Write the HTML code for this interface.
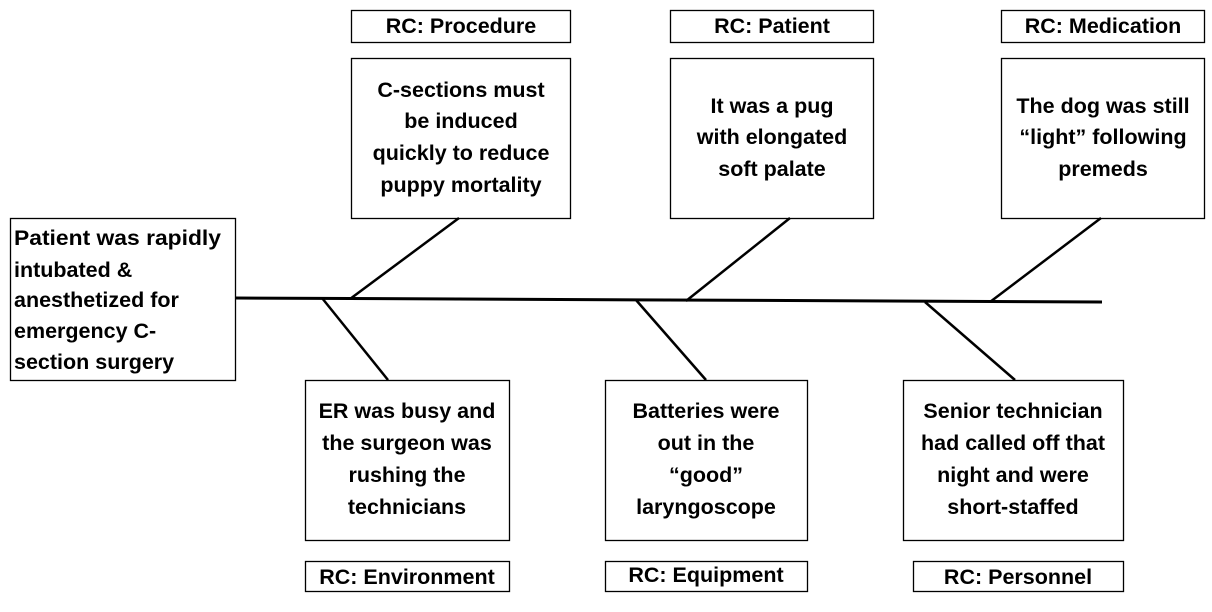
<!DOCTYPE html>
<html><head><meta charset="utf-8"><style>
html,body{margin:0;padding:0;background:#fff;}
svg text{font-family:"Liberation Sans",sans-serif;font-weight:bold;font-size:21.5px;fill:#000;}
</style></head><body>
<svg width="1212" height="607" viewBox="0 0 1212 607" xmlns="http://www.w3.org/2000/svg">
<g fill="none" stroke="#000" stroke-width="1.3">
<rect x="10.5" y="218.5" width="225" height="162"/>
<rect x="351.5" y="10.5" width="219" height="32"/>
<rect x="670.5" y="10.5" width="203" height="32"/>
<rect x="1001.5" y="10.5" width="203" height="32"/>
<rect x="351.5" y="58.5" width="219" height="160"/>
<rect x="670.5" y="58.5" width="203" height="160"/>
<rect x="1001.5" y="58.5" width="203" height="160"/>
<rect x="305.5" y="380.5" width="204" height="160"/>
<rect x="605.5" y="380.5" width="202" height="160"/>
<rect x="903.5" y="380.5" width="220" height="160"/>
<rect x="305.5" y="561.5" width="204" height="30"/>
<rect x="605.5" y="561.5" width="202" height="30"/>
<rect x="913.5" y="561.5" width="210" height="30"/>
</g>
<g stroke="#000" stroke-width="3" fill="none">
<line x1="235" y1="298" x2="1102" y2="302"/>
</g>
<g stroke="#000" stroke-width="2.5" fill="none">
<line x1="459" y1="218" x2="350" y2="299"/>
<line x1="790" y1="218" x2="686" y2="301"/>
<line x1="1101" y1="218" x2="990" y2="302"/>
<line x1="322" y1="298" x2="388" y2="380"/>
<line x1="636" y1="300" x2="706" y2="380"/>
<line x1="925" y1="302" x2="1015" y2="380"/>
</g>
<g text-anchor="start">
<text x="14" y="245" textLength="207" lengthAdjust="spacingAndGlyphs">Patient was rapidly</text>
<text x="14" y="277">intubated &amp;</text>
<text x="14" y="307">anesthetized for</text>
<text x="14" y="338">emergency C-</text>
<text x="14" y="369">section surgery</text>
</g>
<g text-anchor="middle">
<text x="461" y="33">RC: Procedure</text>
<text x="772" y="33">RC: Patient</text>
<text x="1103" y="33">RC: Medication</text>
<text x="461" y="97">C-sections must</text>
<text x="461" y="128">be induced</text>
<text x="461" y="160">quickly to reduce</text>
<text x="461" y="192">puppy mortality</text>
<text x="772" y="113">It was a pug</text>
<text x="772" y="144">with elongated</text>
<text x="772" y="176">soft palate</text>
<text x="1103" y="113">The dog was still</text>
<text x="1103" y="144">“light” following</text>
<text x="1103" y="176">premeds</text>
<text x="407" y="418">ER was busy and</text>
<text x="407" y="450">the surgeon was</text>
<text x="407" y="482">rushing the</text>
<text x="407" y="514">technicians</text>
<text x="706" y="418">Batteries were</text>
<text x="706" y="450">out in the</text>
<text x="706" y="482">“good”</text>
<text x="706" y="514">laryngoscope</text>
<text x="1013" y="418">Senior technician</text>
<text x="1013" y="450">had called off that</text>
<text x="1013" y="482">night and were</text>
<text x="1013" y="514">short-staffed</text>
<text x="407" y="584">RC: Environment</text>
<text x="706" y="582">RC: Equipment</text>
<text x="1018" y="584">RC: Personnel</text>
</g>
</svg>
</body></html>
